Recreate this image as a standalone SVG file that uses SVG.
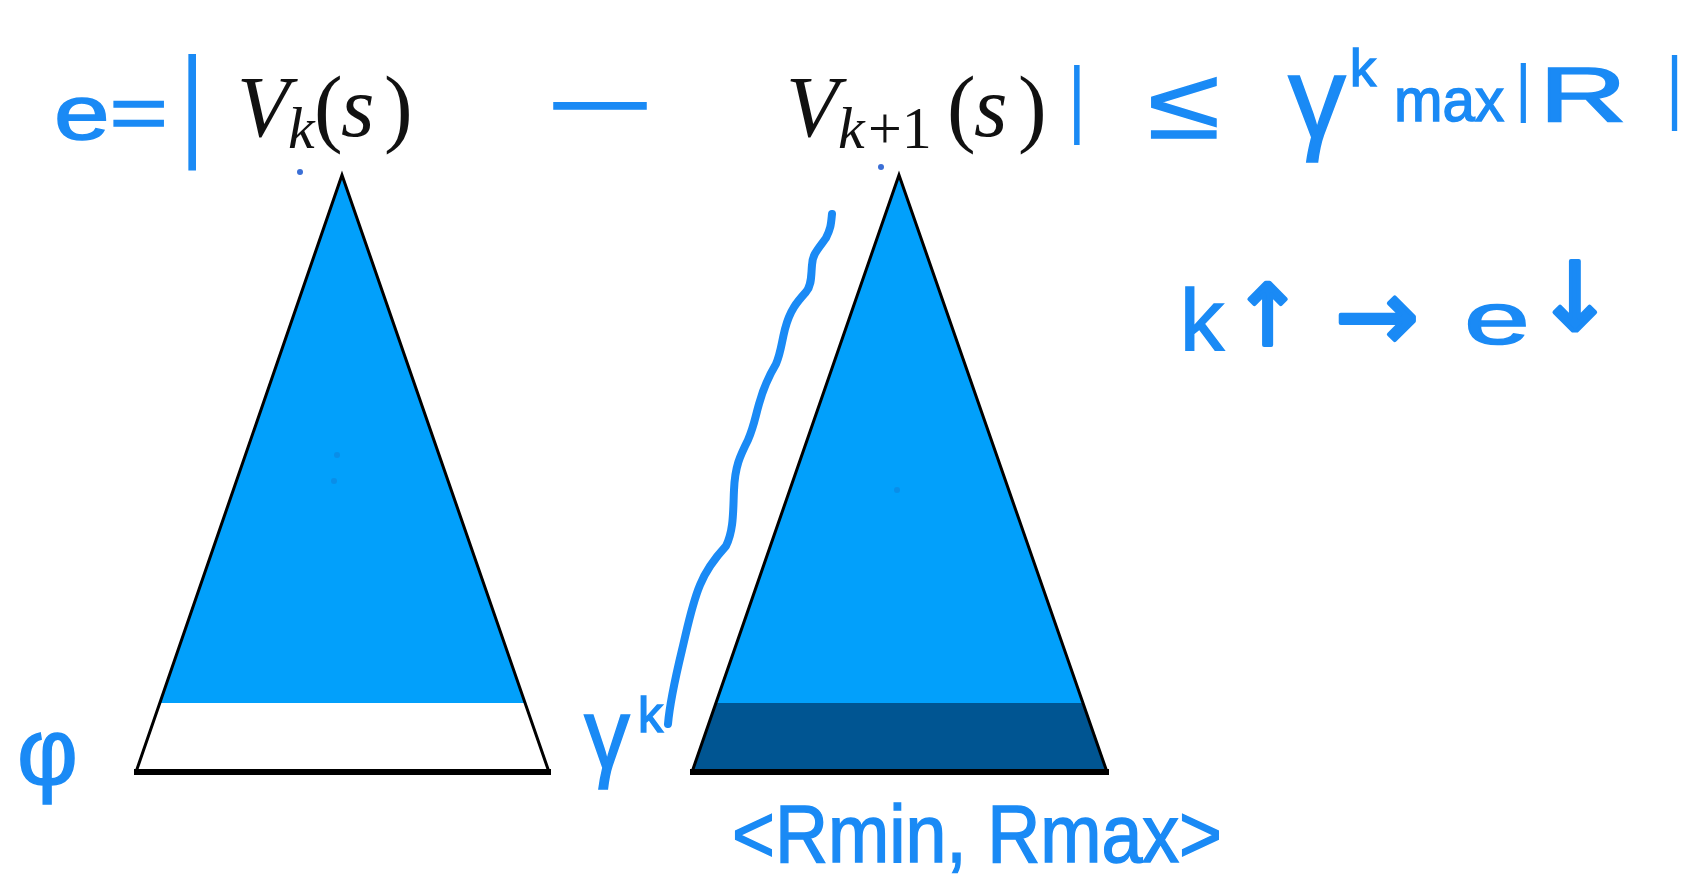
<svg xmlns="http://www.w3.org/2000/svg" width="1688" height="880" viewBox="0 0 1688 880">
  <style>
    .ink { fill: #1a8af5; stroke: #1a8af5; stroke-width: 1.5; font-family: "Liberation Sans", Arial, sans-serif; }
    .bar { fill: #1a8af5; font-family: "Liberation Sans", Arial, sans-serif; }
    .arr { fill: #1a8af5; stroke: #1a8af5; stroke-width: 4; stroke-linejoin: round; font-family: "DejaVu Sans", sans-serif; }
    .tex { fill: #111; font-family: "Liberation Serif", "Times New Roman", serif; font-size: 86px; }
    .it { font-style: italic; }
    .sub { font-size: 60px; font-style: italic; }
    .subr { font-size: 60px; font-style: normal; }
    .tri { fill: #02a0fb; }
    .edge { fill: none; stroke: #000; stroke-width: 3; stroke-linejoin: miter; }
    .base { stroke: #000; stroke-width: 6; }
    .dot { fill: #3b6fd6; }
    .faint { fill: #0a8ee8; }
  </style>
  <rect width="1688" height="880" fill="#ffffff"/>

  <!-- Formula -->
  <g id="formula">
    <text class="ink" x="54" y="139" font-size="76" textLength="114" lengthAdjust="spacingAndGlyphs">e=</text>
    <text class="bar" transform="translate(180,144) scale(0.75,1)" font-size="125">|</text>
    <text class="tex" y="136"><tspan class="it" x="237">V</tspan><tspan class="sub" x="288" y="148">k</tspan><tspan x="314" y="136">(</tspan><tspan class="it" x="341">s</tspan><tspan x="384">)</tspan></text>
    <text class="ink" x="554" y="129" font-size="92">—</text>
    <text class="tex" y="136"><tspan class="it" x="786">V</tspan><tspan class="sub" x="838" y="148">k</tspan><tspan class="subr" x="868">+1</tspan><tspan x="947" y="136">(</tspan><tspan class="it" x="974">s</tspan><tspan x="1018">)</tspan></text>
    <text class="bar" transform="translate(1068,127) scale(0.8,1)" font-size="85">|</text>
    <text class="ink" x="1148" y="138" font-size="100" textLength="72" lengthAdjust="spacingAndGlyphs">≤</text>
    <text class="ink" x="1288" y="138" font-size="116" textLength="58" lengthAdjust="spacingAndGlyphs">γ</text>
    <text class="ink" x="1350" y="86" font-size="52">k</text>
    <text class="ink" x="1394" y="121" font-size="62" textLength="110" lengthAdjust="spacingAndGlyphs">max</text>
    <text class="bar" transform="translate(1515,110)" font-size="64">|</text>
    <text class="ink" x="1539" y="121" font-size="78" textLength="88" lengthAdjust="spacingAndGlyphs">R</text>
    <text class="bar" transform="translate(1666,114) scale(0.8,1)" font-size="82">|</text>
  </g>

  <!-- Trend note -->
  <g id="trend">
    <text class="ink" x="1180" y="350" font-size="88">k</text>
    <text class="arr" x="1232" y="345" font-size="85">↑</text>
    <text class="arr" x="1335" y="350" font-size="100">→</text>
    <text class="ink" x="1464" y="344" font-size="75" textLength="66" lengthAdjust="spacingAndGlyphs">e</text>
    <text class="arr" x="1535" y="330" font-size="95">↓</text>
  </g>

  <!-- Left tree: V_k(s) -->
  <g id="tree-vk">
    <polygon class="tri" points="342,175 160,703 525,703"/>
    <polygon fill="#ffffff" points="160,703 136,772 549,772 525,703"/>
    <polygon class="edge" points="342,175 136,772 549,772"/>
    <line class="base" x1="134" y1="772" x2="551" y2="772"/>
    <circle class="dot" cx="300" cy="172" r="3"/>
    <circle class="faint" cx="337" cy="455" r="3"/>
    <circle class="faint" cx="334" cy="481" r="3"/>
  </g>

  <!-- Right tree: V_{k+1}(s) -->
  <g id="tree-vk1">
    <polygon class="tri" points="899,175 716,703 1082,703"/>
    <polygon fill="#005592" points="716,703 692,772 1107,772 1082,703"/>
    <polygon class="edge" points="899,175 692,772 1107,772"/>
    <line class="base" x1="690" y1="772" x2="1109" y2="772"/>
    <circle class="dot" cx="881" cy="167" r="3"/>
    <circle class="faint" cx="897" cy="490" r="3"/>
  </g>

  <!-- Labels -->
  <g id="label-phi">
    <text class="ink" x="17" y="784" font-size="94">φ</text>
  </g>
  <g id="label-gamma-k">
    <text class="ink" x="584" y="768" font-size="100" textLength="46" lengthAdjust="spacingAndGlyphs">γ</text>
    <text class="ink" x="638" y="732" font-size="50">k</text>
  </g>
  <g id="label-range">
    <text class="ink" x="732" y="862" font-size="82" textLength="490" lengthAdjust="spacingAndGlyphs">&lt;Rmin, Rmax&gt;</text>
  </g>

  <!-- Connectors / annotation stroke -->
  <g id="connectors">
    <path d="M832,214 C831,224 831,228 826,238 C818,249 812,255 812,265 C811,275 812,285 806,292 C797,302 790,310 785,329 C781,345 781,352 776,364 C770,374 764,386 759,404 C755,418 754,426 748,440 C740,456 735,466 734,490 C733,510 734,530 726,546 C715,558 706,570 700,585 C692,604 688,625 682,650 C676,675 670,700 668,724"
          fill="none" stroke="#1a8af5" stroke-width="8" stroke-linecap="round" stroke-linejoin="round"/>
  </g>
</svg>
